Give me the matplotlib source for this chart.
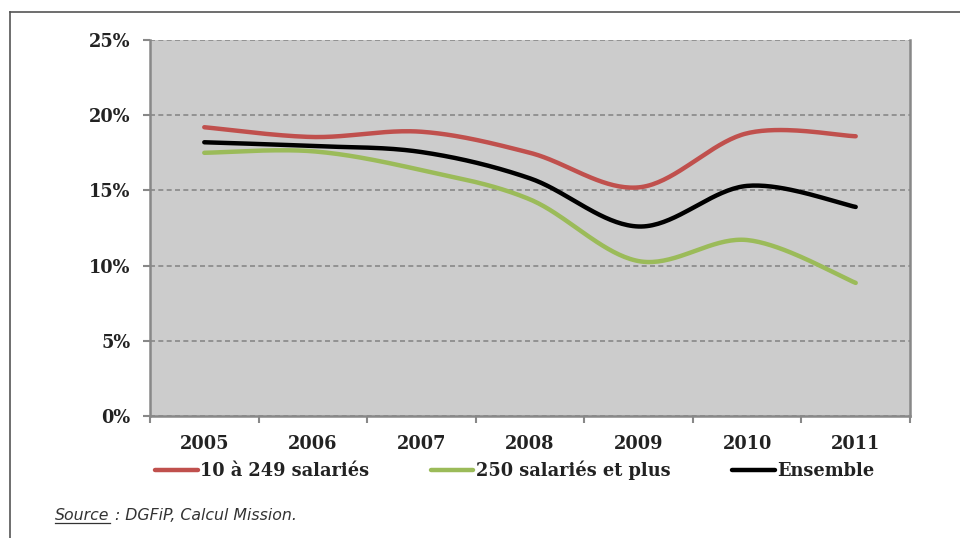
import numpy as np
import matplotlib.pyplot as plt
from matplotlib.lines import Line2D
from matplotlib.ticker import FixedLocator, FuncFormatter

# ------------------------
# Data (share in %)
# ------------------------

YEARS = ["2005", "2006", "2007", "2008", "2009", "2010", "2011"]

PME = [19.2, 18.55, 18.9, 17.5, 15.2, 18.8, 18.6]        # 10 à 249 salariés
GE = [17.5, 17.6, 16.35, 14.4, 10.3, 11.7, 8.85]         # 250 salariés et plus
ENSEMBLE = [18.2, 17.95, 17.55, 15.8, 12.6, 15.3, 13.9]  # Ensemble

SERIES = [
    ("10 à 249 salariés", PME, "#c0504d"),
    ("250 salariés et plus", GE, "#9bbb59"),
    ("Ensemble", ENSEMBLE, "#000000"),
]


def smooth_curve(x, y, n=40):
    """Catmull-Rom style Bezier smoothing through the points (like a spreadsheet 'smoothed line')."""
    x = np.asarray(x, float)
    y = np.asarray(y, float)
    px = np.concatenate([[x[0]], x, [x[-1]]])
    py = np.concatenate([[y[0]], y, [y[-1]]])
    xs, ys = [], []
    t = np.linspace(0, 1, n)
    for i in range(1, len(px) - 2):
        p0 = np.array([px[i], py[i]])
        p3 = np.array([px[i + 1], py[i + 1]])
        p1 = p0 + (np.array([px[i + 1], py[i + 1]]) - np.array([px[i - 1], py[i - 1]])) / 6
        p2 = p3 - (np.array([px[i + 2], py[i + 2]]) - np.array([px[i], py[i]])) / 6
        b = ((1 - t) ** 3)[:, None] * p0 + (3 * (1 - t) ** 2 * t)[:, None] * p1 \
            + (3 * (1 - t) * t ** 2)[:, None] * p2 + (t ** 3)[:, None] * p3
        xs.append(b[:, 0])
        ys.append(b[:, 1])
    return np.concatenate(xs), np.concatenate(ys)


FONT = "DejaVu Serif"
FSIZE = 12.8

fig = plt.figure(figsize=(9.6, 5.38), dpi=100)
ax = fig.add_axes([150 / 960, 1 - 416 / 538, 760 / 960, 376 / 538])

x = np.arange(len(YEARS))
for label, vals, color in SERIES:
    sx, sy = smooth_curve(x, vals)
    ax.plot(sx, sy, color=color, lw=3.2, solid_capstyle="round", label=label, zorder=3)

ax.set_facecolor("#cccccc")
ax.set_xlim(-0.5, len(YEARS) - 0.5)
ax.set_ylim(0, 25)

ax.yaxis.set_major_locator(FixedLocator([0, 5, 10, 15, 20, 25]))
ax.yaxis.set_major_formatter(FuncFormatter(lambda v, _: f"{v:.0f}%"))
ax.grid(axis="y", color="#888888", ls=(0, (3, 2)), lw=1.2, zorder=1)

ax.set_xticks(x)
ax.set_xticklabels(YEARS)
ax.set_xticks(np.arange(-0.5, len(YEARS)), minor=True)
ax.tick_params(axis="x", which="major", length=0, pad=14)
ax.tick_params(axis="x", which="minor", length=5, color="#888888", width=1.5, direction="out")
ax.tick_params(axis="y", length=5, color="#888888", width=1.5, direction="out", pad=9)

for lbl in ax.get_xticklabels() + ax.get_yticklabels():
    lbl.set_fontfamily(FONT)
    lbl.set_fontweight("bold")
    lbl.set_fontsize(FSIZE)
    lbl.set_color("#222222")

for side in ["left", "bottom", "right"]:
    ax.spines[side].set_color("#888888")
    ax.spines[side].set_linewidth(1.8)
ax.spines["top"].set_visible(False)

leg = fig.legend(loc="center left", bbox_to_anchor=(155 / 960, 1 - 470 / 538), ncol=3,
                 frameon=False, borderpad=0, borderaxespad=0,
                 handlelength=2.4, handletextpad=0.15, columnspacing=3.45,
                 prop={"family": FONT, "weight": "bold", "size": FSIZE})
for t in leg.get_texts():
    t.set_color("#222222")

# source line, with the word "Source" underlined
src = fig.text(55 / 960, 1 - 516 / 538, "Source", fontsize=11.3, style="italic",
               family="DejaVu Sans", color="#333333", va="center")
fig.canvas.draw()
bb = src.get_window_extent()
fig.add_artist(Line2D([bb.x0 / 960, bb.x1 / 960], [(bb.y0 + 1) / 538] * 2,
                      color="#333333", lw=0.9))
fig.text(bb.x1 / 960, 1 - 516 / 538, " : DGFiP, Calcul Mission.", fontsize=11.3,
         style="italic", family="DejaVu Sans", color="#333333", va="center")

# outer frame (top and left edges)
fig.add_artist(Line2D([10 / 960, 1.0], [1 - 12 / 538] * 2, color="#555555", lw=1.2))
fig.add_artist(Line2D([10 / 960] * 2, [0, 1 - 12 / 538], color="#555555", lw=1.2))

fig.savefig("out.png", dpi=100)
